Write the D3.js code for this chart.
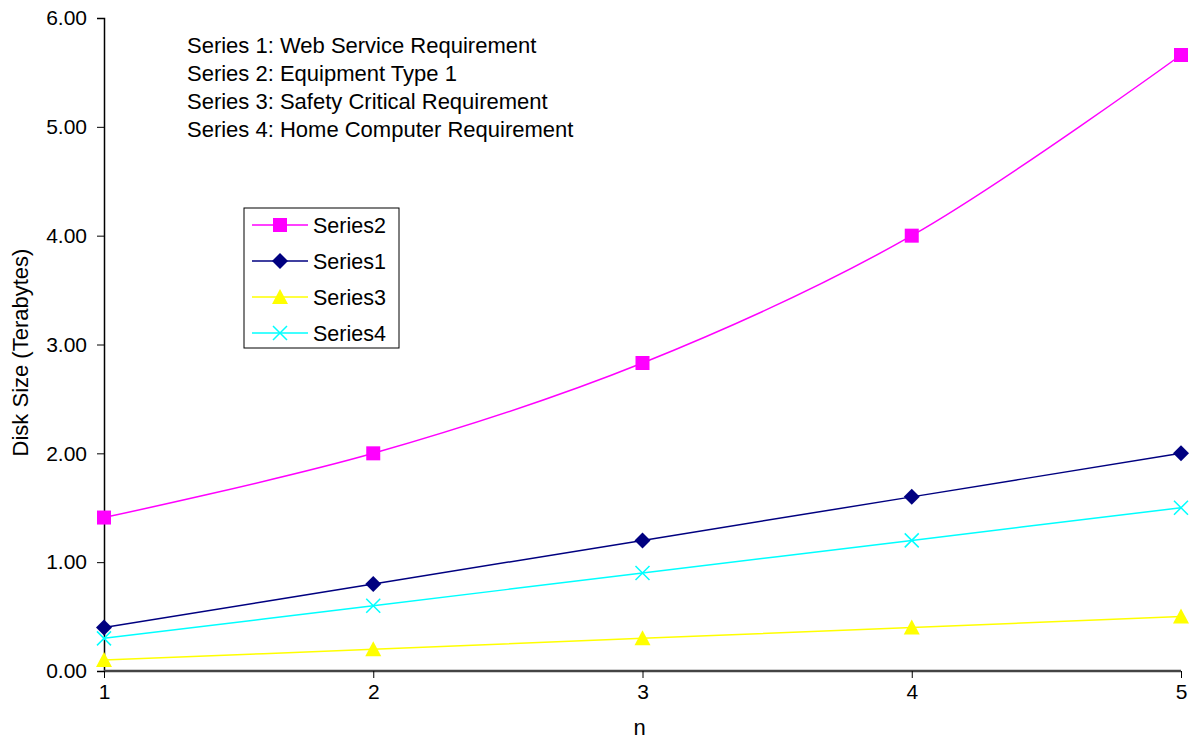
<!DOCTYPE html>
<html>
<head>
<meta charset="utf-8">
<script src="https://cdn.jsdelivr.net/npm/d3@7"></script>
<style>
  body { margin: 0; background: #fff; }
  svg { font-family: "Liberation Sans", Arial, sans-serif; }
</style>
</head>
<body>
<script>
// data
var nValues = [1, 2, 3, 4, 5];
var series1 = [0.4, 0.8, 1.2, 1.6, 2.0];
var series2 = [1.41, 2.0, 2.83, 4.0, 5.66];
var series3 = [0.1, 0.2, 0.3, 0.4, 0.5];
var series4 = [0.3, 0.6, 0.9, 1.2, 1.5];
var yTicks = [0, 1, 2, 3, 4, 5, 6];
var notes = [
  "Series 1: Web Service Requirement",
  "Series 2: Equipment Type 1",
  "Series 3: Safety Critical Requirement",
  "Series 4: Home Computer Requirement"
];
var legendOrder = ["Series2", "Series1", "Series3", "Series4"];

var series = {
  Series1: { values: series1, color: "#000080", marker: "diamond" },
  Series2: { values: series2, color: "#ff00ff", marker: "square" },
  Series3: { values: series3, color: "#ffff00", marker: "triangle" },
  Series4: { values: series4, color: "#00ffff", marker: "cross" }
};

var W = 1199, H = 743;
var margin = {top: 18, right: 18, bottom: 72, left: 104};
var width = W - margin.left - margin.right,
    height = H - margin.top - margin.bottom;

var svg = d3.select("body").append("svg")
  .attr("width", W).attr("height", H);

var x = d3.scaleLinear().domain([1, 5]).range([0, width]);
var y = d3.scaleLinear().domain([0, 6]).range([height, 0]);

var main = svg.append("g")
  .attr("transform", "translate(" + margin.left + "," + margin.top + ")");

// axes
var yAxis = d3.axisLeft(y).tickValues(yTicks).tickSize(7).tickPadding(10)
  .tickFormat(d3.format(".2f"));
var gy = main.append("g").call(yAxis);
gy.select(".domain").attr("stroke", "#000").attr("stroke-width", 1.5);
gy.selectAll(".tick line").attr("stroke", "#000");
gy.selectAll("text").style("font-size", "21px").attr("fill", "#000");

var xAxis = d3.axisBottom(x).tickValues(nValues).tickSize(7).tickPadding(6)
  .tickFormat(d3.format("d"));
var gx = main.append("g").attr("transform", "translate(0," + height + ")").call(xAxis);
gx.select(".domain").attr("stroke", "#444").attr("stroke-width", 2.5)
  .attr("d", "M0,0H" + width);
gx.selectAll(".tick line").attr("stroke", "#000");
gx.selectAll("text").style("font-size", "21px").attr("fill", "#000");

svg.append("text")
  .attr("x", margin.left + width / 2 - 3).attr("y", 735)
  .attr("text-anchor", "middle").style("font-size", "22px").text("n");

svg.append("text")
  .attr("transform", "translate(28," + (margin.top + height / 2 + 8) + ") rotate(-90)")
  .attr("text-anchor", "middle").style("font-size", "22px")
  .text("Disk Size (Terabytes)");

// markers
function drawMarker(g, type, color) {
  if (type === "square") {
    g.append("rect").attr("x", -7).attr("y", -7).attr("width", 14).attr("height", 14)
      .attr("fill", color);
  } else if (type === "diamond") {
    g.append("path").attr("d", "M0,-8L8,0L0,8L-8,0Z").attr("fill", color);
  } else if (type === "triangle") {
    g.append("path").attr("d", "M0,-8L8,7L-8,7Z").attr("fill", color);
  } else {
    g.append("path").attr("d", "M-7,-7L7,7M-7,7L7,-7")
      .attr("stroke", color).attr("stroke-width", 1.5).attr("fill", "none");
  }
}

var line = d3.line()
  .x(function(d, i) { return x(nValues[i]); })
  .y(function(d) { return y(d); })
  .curve(d3.curveCatmullRom.alpha(0.5));

["Series3", "Series4", "Series1", "Series2"].forEach(function(name) {
  var s = series[name];
  main.append("path").datum(s.values)
    .attr("d", line).attr("fill", "none")
    .attr("stroke", s.color).attr("stroke-width", 1.5);
  main.selectAll(".m-" + name).data(s.values).enter().append("g")
    .attr("transform", function(d, i) { return "translate(" + x(nValues[i]) + "," + y(d) + ")"; })
    .each(function() { drawMarker(d3.select(this), s.marker, s.color); });
});

// notes text
svg.selectAll(".note").data(notes).enter().append("text")
  .attr("x", 187).attr("y", function(d, i) { return 53 + i * 28; })
  .style("font-size", "22px").text(function(d) { return d; });

// legend
var legend = svg.append("g").attr("transform", "translate(244,208)");
legend.append("rect").attr("width", 155).attr("height", 140)
  .attr("fill", "#fff").attr("stroke", "#000").attr("stroke-width", 1);
legendOrder.forEach(function(name, i) {
  var s = series[name];
  var row = legend.append("g").attr("transform", "translate(0," + (17 + i * 36) + ")");
  row.append("line").attr("x1", 8).attr("x2", 64)
    .attr("stroke", s.color).attr("stroke-width", 1.5);
  drawMarker(row.append("g").attr("transform", "translate(36,0)"), s.marker, s.color);
  row.append("text").attr("x", 69).attr("y", 8).style("font-size", "21.5px").text(name);
});
</script>
</body>
</html>
